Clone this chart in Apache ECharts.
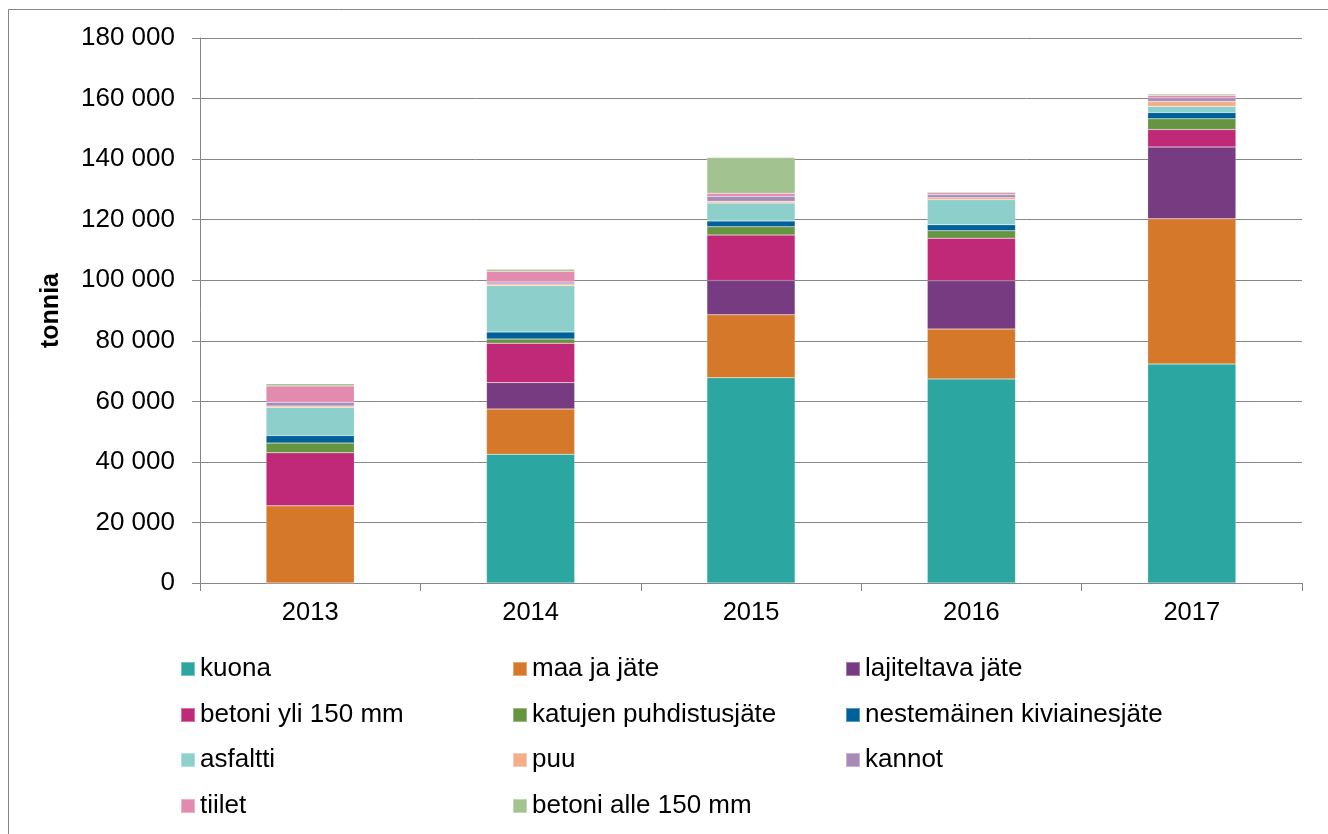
<!DOCTYPE html>
<html>
<head>
<meta charset="utf-8">
<script src="https://cdn.jsdelivr.net/npm/echarts@6/dist/echarts.min.js"></script>
<style>
  html, body { margin: 0; padding: 0; background: #ffffff; }
  #chart { width: 1328px; height: 834px; }
</style>
</head>
<body>
<div id="chart"></div>
<script>
// Years on the category axis
const years = ['2013', '2014', '2015', '2016', '2017'];

// Tonnes per material and year
const kuona        = [0,     42500, 67800, 67400, 72300];
const maaJaJate    = [25500, 15000, 20800, 16500, 48000];
const lajiteltava  = [0,     8700,  11300, 15900, 23700];
const betoniYli    = [17500, 13000, 15000, 14100, 5800];
const katujen      = [3200,  1400,  2750,  2400,  3500];
const nestemainen  = [2500,  2300,  1900,  2000,  2100];
const asfaltti     = [9300,  15300, 5950,  8300,  2000];
const puu          = [500,   550,   550,   650,   1650];
const kannot       = [1200,  650,   1650,  1000,  1100];
const tiilet       = [5400,  3600,  1000,  650,   900];
const betoniAlle   = [700,   650,   11800, 300,   450];

const seriesDefs = [
  { name: 'kuona',                      data: kuona,       color: '#2CA6A0' },
  { name: 'maa ja jäte',                data: maaJaJate,   color: '#D6782A' },
  { name: 'lajiteltava jäte',           data: lajiteltava, color: '#763B80' },
  { name: 'betoni yli 150 mm',          data: betoniYli,   color: '#C02878' },
  { name: 'katujen puhdistusjäte',      data: katujen,     color: '#66953F' },
  { name: 'nestemäinen kiviainesjäte',  data: nestemainen, color: '#00609A' },
  { name: 'asfaltti',                   data: asfaltti,    color: '#8CCFCB' },
  { name: 'puu',                        data: puu,         color: '#F5AE8A' },
  { name: 'kannot',                     data: kannot,      color: '#A78CB8' },
  { name: 'tiilet',                     data: tiilet,      color: '#E28BAE' },
  { name: 'betoni alle 150 mm',         data: betoniAlle,  color: '#A2C28F' }
];

const FONT = '"Liberation Sans", Arial, sans-serif';
const GRID_GRAY = '#868686';

// Legend laid out as a three-column grid below the plot
const legendCols = [180, 512, 845];
const legendRows = [656, 702, 747, 793];
const legends = seriesDefs.map((s, i) => ({
  data: [s.name],
  left: legendCols[i % 3],
  top: legendRows[Math.floor(i / 3)],
  orient: 'horizontal',
  itemWidth: 14,
  itemHeight: 14,
  icon: 'rect',
  selectedMode: false,
  padding: 0,
  textStyle: { fontFamily: FONT, fontSize: 26, color: '#000000' }
}));

const chart = echarts.init(document.getElementById('chart'), null, { renderer: 'canvas' });

chart.setOption({
  animation: false,
  backgroundColor: '#ffffff',
  graphic: [{
    type: 'rect',
    shape: { x: 8.5, y: 9.5, width: 1400, height: 900 },
    style: { fill: 'none', stroke: GRID_GRAY, lineWidth: 1 },
    silent: true
  }],
  grid: { left: 200, right: 26, top: 38, bottom: 251, containLabel: false },
  legend: legends,
  xAxis: {
    type: 'category',
    data: years,
    axisLine: { show: true, lineStyle: { color: GRID_GRAY, width: 1 } },
    axisTick: { show: true, length: 8, alignWithLabel: false, lineStyle: { color: GRID_GRAY } },
    axisLabel: { fontFamily: FONT, fontSize: 25.5, color: '#000000', margin: 17 },
    splitLine: { show: false }
  },
  yAxis: {
    type: 'value',
    min: 0,
    max: 180000,
    interval: 20000,
    name: 'tonnia',
    nameLocation: 'middle',
    nameGap: 136,
    nameRotate: 90,
    nameTextStyle: { fontFamily: FONT, fontSize: 25, fontWeight: 'bold', color: '#000000' },
    axisLine: { show: true, lineStyle: { color: GRID_GRAY, width: 1 } },
    axisTick: { show: true, length: 8, lineStyle: { color: GRID_GRAY } },
    axisLabel: {
      fontFamily: FONT, fontSize: 26, color: '#000000', margin: 25,
      formatter: v => String(v).replace(/\B(?=(\d{3})+(?!\d))/g, ' ')
    },
    splitLine: { show: true, lineStyle: { color: GRID_GRAY, width: 1 } }
  },
  series: seriesDefs.map(s => ({
    name: s.name,
    type: 'bar',
    stack: 'total',
    data: s.data,
    barWidth: '40%',
    itemStyle: { color: s.color, borderColor: 'rgba(255,255,255,0.35)', borderWidth: 0.5 },
    emphasis: { disabled: true }
  }))
});
</script>
</body>
</html>
